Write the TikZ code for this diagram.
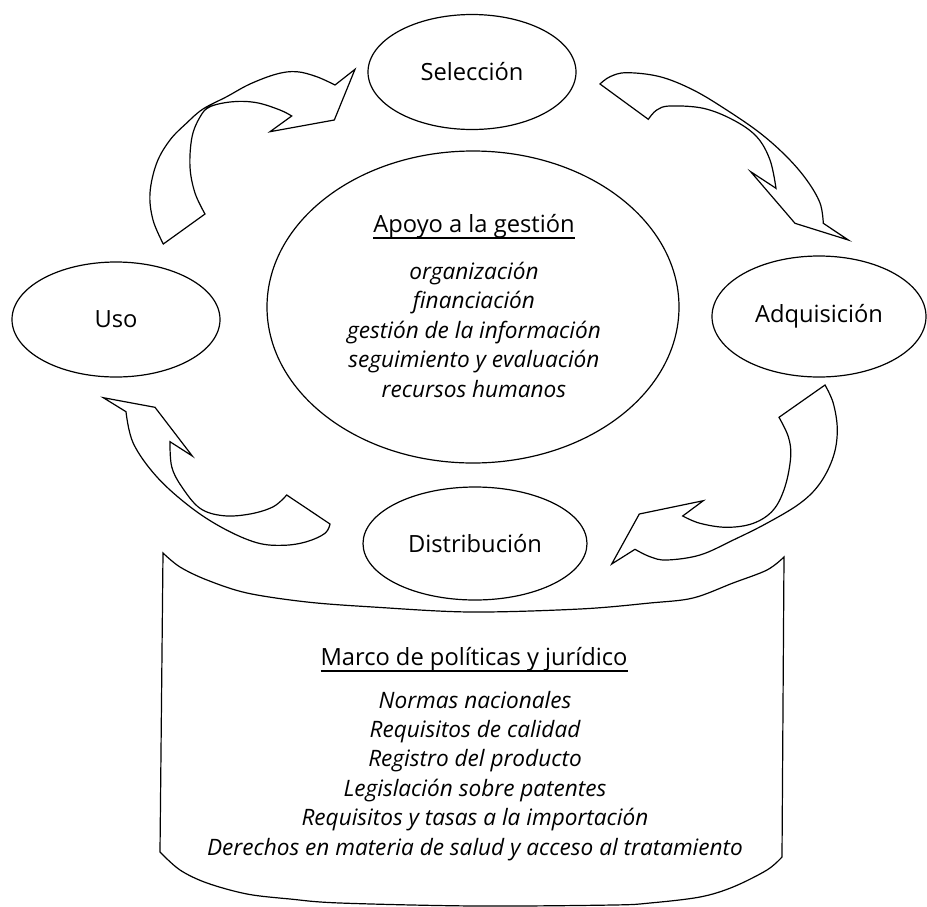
\documentclass[tikz,border=0pt]{standalone}
\usepackage{fontspec}
\setmainfont{Open Sans}
\usetikzlibrary{shapes.geometric}
\newlength{\mywd}
\AtBeginDocument{%
  \settowidth{\mywd}{\fontsize{20}{24}\selectfont\itshape Derechos en materia de salud y acceso al tratamiento}%
  \pgfmathsetmacro{\itsz}{20*536/\mywd}%
  \settowidth{\mywd}{\fontsize{20}{24}\selectfont Marco de políticas y jurídico}%
  \pgfmathsetmacro{\upsz}{20*307/\mywd}%
}
\begin{document}
\begin{tikzpicture}[x=1pt,y=-1pt,
  every node/.style={inner sep=0pt, outer sep=0pt},
  oval/.style={draw, ellipse, line width=1.2pt, font=\fontsize{\upsz}{\upsz}\selectfont},
  band/.style={draw, line width=1.2pt, line join=miter},
  ital/.style={font=\fontsize{\itsz}{\itsz}\selectfont\itshape, anchor=base},
  headtext/.style={font=\fontsize{\upsz}{\upsz}\selectfont, anchor=base},
  uline/.style={line width=1.4pt}]
\useasboundingbox (0,0) rectangle (927,906);

% ellipses
\node[oval, minimum width=208pt, minimum height=115pt] (sel) at (472,72) {Selección};
\node[oval, minimum width=214pt, minimum height=121pt] (adq) at (819,316.5) {Adquisición};
\node[oval, minimum width=208pt, minimum height=115pt] (uso) at (116,319.5) {Uso};
\node[oval, minimum width=224pt, minimum height=113pt] (dis) at (475,543.5) {Distribución};
\node[draw, ellipse, line width=1.2pt, minimum width=412pt, minimum height=312pt] (apo) at (473,307) {};

% central text
\node[headtext] (apoyo) at (474,232) {Apoyo a la gestión};
\draw[uline] ([yshift=-6pt]apoyo.base west) -- ([yshift=-6pt]apoyo.base east);
\foreach \t [count=\i] in {organización, financiación, gestión de la información, seguimiento y evaluación, recursos humanos}
  \node[ital] (ap\i) at ({474},{249.5+29.5*\i}) {\t};

% container
\draw[band] plot[smooth, tension=0.55] coordinates {(163,553) (180,567) (207,580) (247,593) (307,602) (373,607) (470,612) (580,609) (650,603) (693,598) (733,583) (767,570) (784,557)}
  -- (782,857)
  -- plot[smooth, tension=0.55] coordinates {(782,857) (767,870) (733,887) (700,897) (650,903) (613,905) (475,906) (340,903) (290,899) (247,894) (207,883) (180,870) (160,852)}
  -- cycle;
\node[headtext] (marco) at (474,665) {Marco de políticas y jurídico};
\draw[uline] ([yshift=-6pt]marco.base west) -- ([yshift=-6pt]marco.base east);
\foreach \t [count=\i] in {Normas nacionales, Requisitos de calidad, Registro del producto, Legislación sobre patentes, Requisitos y tasas a la importación, Derechos en materia de salud y acceso al tratamiento}
  \node[ital] (mj\i) at ({475},{678.6+29.4*\i}) {\t};

% arrow Uso -> Seleccion
\draw[band] (163.3,244) -- (205,214)
  -- plot[smooth, tension=0.6] coordinates {(205,214) (195,193) (190,167) (192,137) (200,117) (210,106.7) (233,101.7) (256.7,102.7) (280,110) (291.7,116)}
  -- (270,131.7) -- (334.3,120) -- (355,69.3) -- (335,85)
  -- plot[smooth, tension=0.6] coordinates {(335,85) (316.7,76.7) (296.7,71.7) (276.7,74) (250,84) (226.7,96.7) (203,109) (186.7,123) (170,140) (156.7,163) (150,193) (153,220) (163.3,244)}
  -- cycle;

% arrow Seleccion -> Adquisicion
\draw[band] (600,84) -- (648.3,119.3)
  -- plot[smooth, tension=0.6] coordinates {(648.3,119.3) (656.7,110) (670,106) (703.3,108.3) (733.3,120) (756.7,136.7) (770,160) (776,188.3)}
  -- (750.7,171.7) -- (795,223.3) -- (848.3,240) -- (823.3,223.3)
  -- plot[smooth, tension=0.6] coordinates {(823.3,223.3) (820,203) (806.7,180) (786.7,156.7) (760,133) (726.7,110) (693.3,90) (660,76.7) (626.7,72.7) (610,76.7) (600,84)}
  -- cycle;

% arrow Adquisicion -> Distribucion
\draw[band] (779,417.3) -- (825,385)
  -- plot[smooth, tension=0.6] coordinates {(825,385) (833.3,403.3) (837.3,430) (833.3,456.7) (820,483.3) (800,503.3) (766.7,523.3) (733.3,540) (700,555) (666.7,560) (650,556.7) (635,549.3)}
  -- (611.7,564) -- (639.3,514) -- (703.3,500.7) -- (682.7,516)
  -- plot[smooth, tension=0.6] coordinates {(682.7,516) (700,523.3) (726.7,527.3) (753.3,523.3) (773.3,510) (785,486.7) (790.7,456.7) (788.3,436.7) (779,417.3)}
  -- cycle;

% arrow Distribucion -> Uso
\draw[band] (286.7,495) -- (330,524)
  -- plot[smooth, tension=0.6] coordinates {(330,524) (325,533.3) (306.7,541.7) (283.3,545.3) (256.7,542.7) (223.3,528.3) (190,506.7) (156.7,476.7) (133.3,443.3) (126,411.7)}
  -- (103.3,397.7) -- (155,407.3) -- (192.3,456) -- (170,441.7)
  -- plot[smooth, tension=0.6] coordinates {(170,441.7) (171.7,466.7) (181.7,486.7) (200,508.3) (223.3,515.7) (250,514) (273.3,506.7) (286.7,495)}
  -- cycle;
\end{tikzpicture}
\end{document}
